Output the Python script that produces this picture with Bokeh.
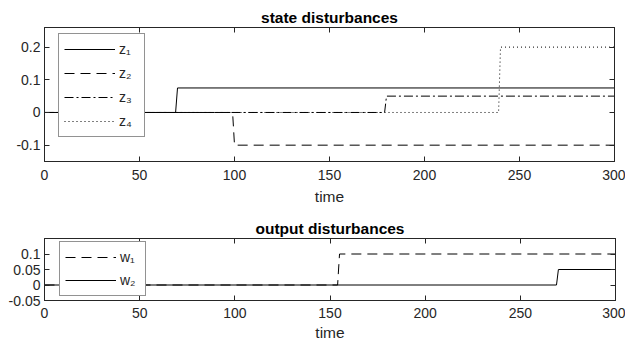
from bokeh.plotting import figure
from bokeh.layouts import column
from bokeh.models import FixedTicker, LinearAxis, Range1d
from bokeh.embed import file_html
from bokeh.resources import INLINE

# ---------------- data ----------------
T_START, T_END = 0, 300
x_ticks = [0, 50, 100, 150, 200, 250, 300]

z_names = ["z\u2081", "z\u2082", "z\u2083", "z\u2084"]
z_step_times = [70, 100, 180, 240]
z_levels = [0.075, -0.1, 0.05, 0.2]
z_yticks = [-0.1, 0, 0.1, 0.2]
z_ytick_labels = ["-0.1", "0", "0.1", "0.2"]

w_names = ["w\u2081", "w\u2082"]
w_step_times = [155, 270]
w_levels = [0.1, 0.05]
w_yticks = [-0.05, 0, 0.05, 0.1]
w_ytick_labels = ["-0.05", "0", "0.05", "0.1"]

# ---------------- styles ----------------
FONT = "Liberation Sans"
AX = "#262626"
z_dashes = ["solid", "10 6", "9 3 2 3", "1 3"]
w_dashes = ["10 6", "solid"]


def step_path(ts, lvl):
    return [T_START, ts - 1, ts, T_END], [0, 0, lvl, lvl]


def style_axis(ax):
    ax.axis_line_color = AX
    ax.major_tick_line_color = AX
    ax.minor_tick_line_color = None
    ax.major_tick_in = 5
    ax.major_tick_out = 0
    ax.major_label_text_color = AX
    ax.major_label_text_font = FONT
    ax.major_label_text_font_size = "14px"
    ax.axis_label_text_font = FONT
    ax.axis_label_text_font_size = "15.5px"
    ax.axis_label_text_font_style = "normal"
    ax.axis_label_text_color = AX


def hidden_axis(ticks):
    ax = LinearAxis(ticker=FixedTicker(ticks=ticks))
    style_axis(ax)
    ax.major_label_overrides = {v: "" for v in ticks}
    ax.major_label_text_color = None
    ax.major_label_standoff = 0
    return ax


def make_fig(title, fw, fh, bl, br, bt, bb, ylim, yticks, ylabels,
             xstand, lstand):
    p = figure(frame_width=fw, frame_height=fh,
               x_range=Range1d(T_START, T_END), y_range=Range1d(*ylim),
               output_backend="svg", toolbar_location=None,
               min_border_left=bl, min_border_right=br,
               min_border_top=bt, min_border_bottom=bb)
    p.title.text = title
    p.title.align = "center"
    p.title.text_font = FONT
    p.title.text_font_size = "15.5px"
    p.title.text_font_style = "bold"
    p.title.text_color = "black"
    p.title.standoff = 4
    p.xgrid.visible = False
    p.ygrid.visible = False
    p.outline_line_color = AX
    p.background_fill_color = "white"
    p.border_fill_color = "white"

    p.xaxis.ticker = FixedTicker(ticks=x_ticks)
    p.yaxis.ticker = FixedTicker(ticks=yticks)
    p.yaxis.major_label_overrides = {v: s for v, s in zip(yticks, ylabels)}
    p.xaxis.axis_label = "time"
    for ax in p.xaxis:
        style_axis(ax)
        ax.major_label_standoff = xstand
        ax.axis_label_standoff = lstand
    for ax in p.yaxis:
        style_axis(ax)
        ax.major_label_standoff = 4

    p.add_layout(hidden_axis(x_ticks), "above")
    p.add_layout(hidden_axis(yticks), "right")
    return p


p1 = make_fig("state disturbances", 570, 134, 41, 14, 27, 44,
              (-0.15, 0.26), z_yticks, z_ytick_labels, 8, 5)
for name, ts, lvl, dash in zip(z_names, z_step_times, z_levels, z_dashes):
    xs, ys = step_path(ts, lvl)
    p1.line(xs, ys, line_color="black", line_width=1, line_dash=dash,
            legend_label=name)

p2 = make_fig("output disturbances", 571, 62, 44, 10, 31, 41,
              (-0.05, 0.15), w_yticks, w_ytick_labels, 7, 3)
for name, ts, lvl, dash in zip(w_names, w_step_times, w_levels, w_dashes):
    xs, ys = step_path(ts, lvl)
    p2.line(xs, ys, line_color="black", line_width=1, line_dash=dash,
            legend_label=name)


def style_legend(p, loc, spacing):
    lg = p.legend[0]
    lg.location = loc
    lg.border_line_color = AX
    lg.border_line_width = 1
    lg.background_fill_color = "white"
    lg.background_fill_alpha = 1
    lg.label_text_font = FONT
    lg.label_text_font_size = "14px"
    lg.label_text_color = AX
    lg.glyph_width = 51
    lg.glyph_height = 20
    lg.label_height = 20
    lg.label_standoff = 4
    lg.spacing = spacing
    lg.padding = 5
    lg.margin = 0


style_legend(p1, (14, 24), 4)
style_legend(p2, (15, 4), 3)

layout = column(p1, p2, spacing=0)
open("out.html", "w").write(file_html(layout, INLINE))
